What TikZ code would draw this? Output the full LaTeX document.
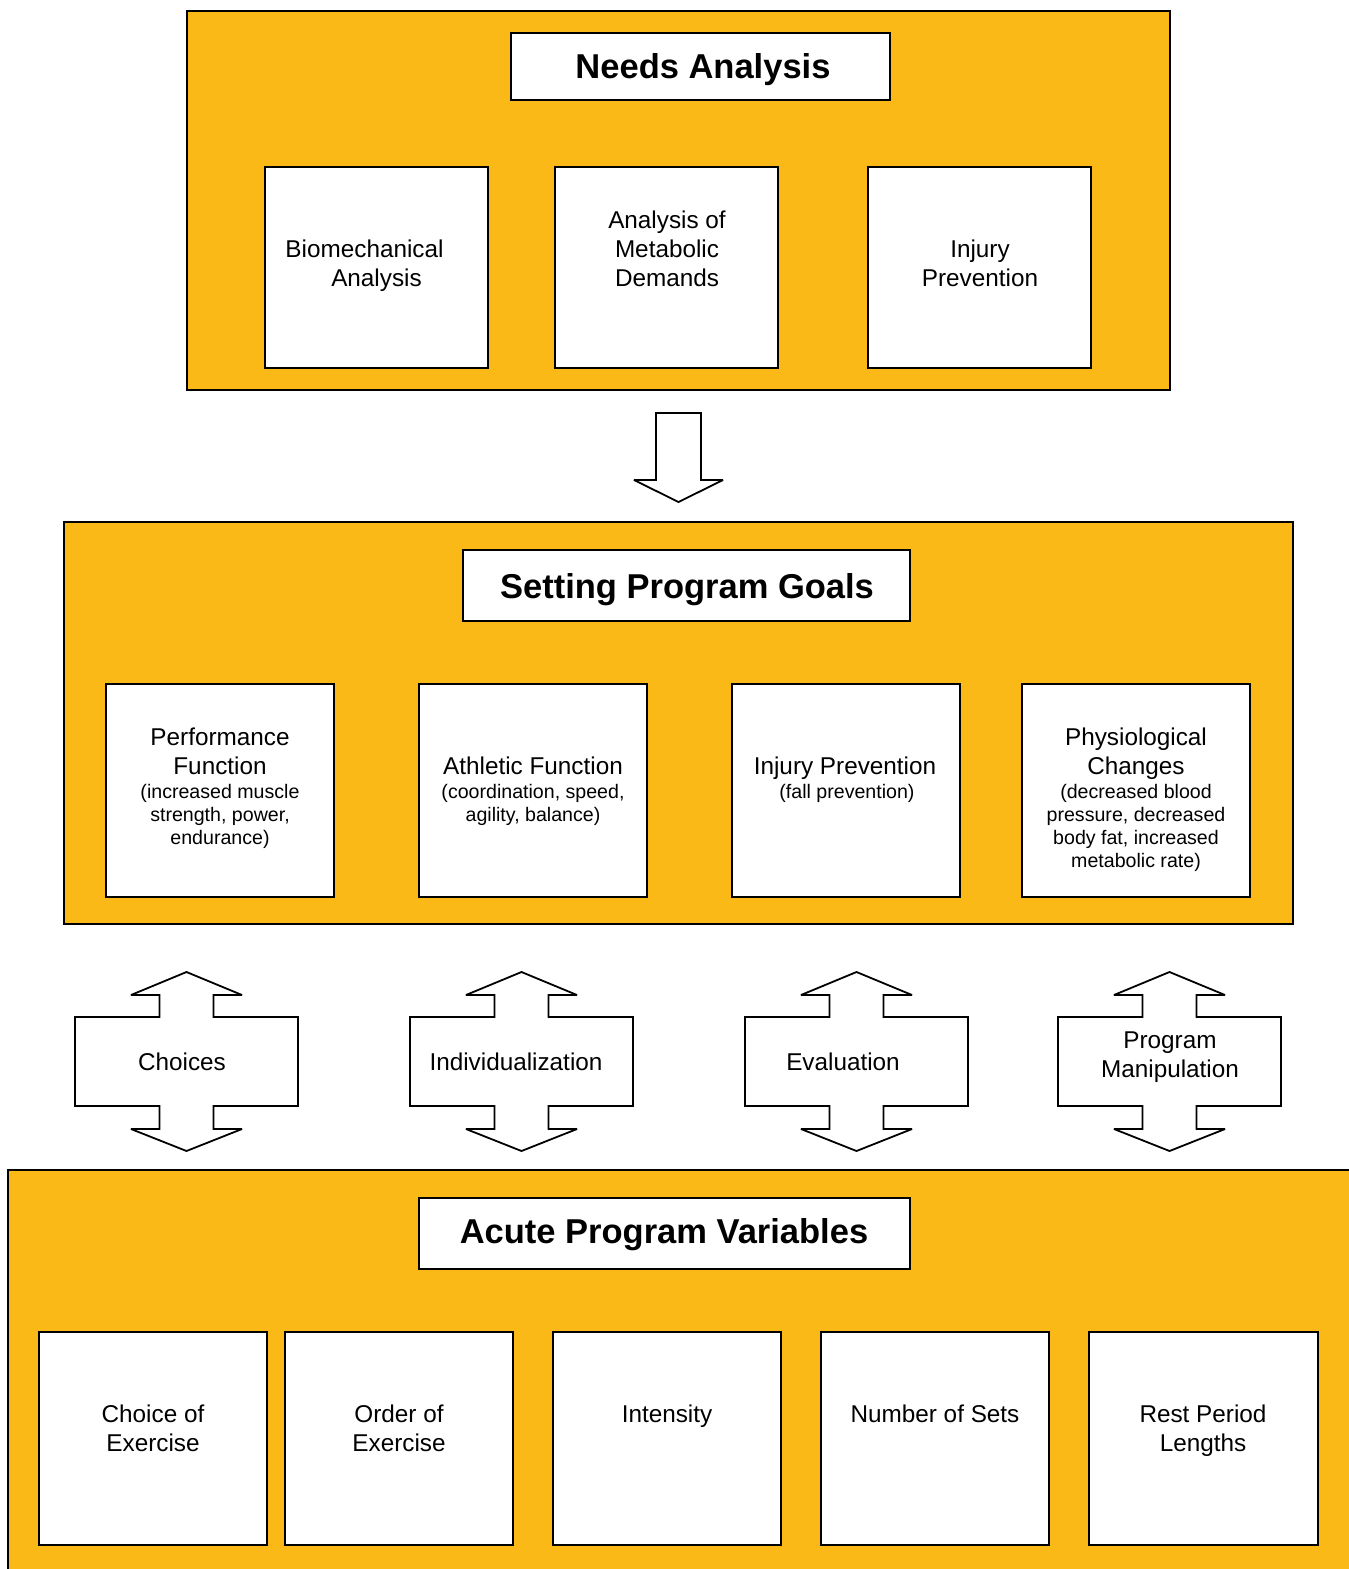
\documentclass[tikz,border=0pt]{standalone}
\usepackage{fontspec}
\setmainfont{Liberation Sans}
\definecolor{panelorange}{RGB}{251,185,24}
\tikzset{
  panel/.style={draw=black, fill=panelorange, line width=1.8pt, inner sep=0pt},
  wbox/.style={draw=black, fill=white, line width=1.8pt, inner sep=0pt},
  titletxt/.style={anchor=base, inner sep=0pt, font=\fontsize{34.5}{40}\selectfont\bfseries},
  maintxt/.style={anchor=base, inner sep=0pt, font=\fontsize{24.3}{29}\selectfont},
  smalltxt/.style={anchor=base, inner sep=0pt, font=\fontsize{19.6}{23}\selectfont},
  arrowshape/.style={draw=black, fill=white, line width=1.8pt, line join=miter, miter limit=2},
  pics/dblarr/.style={code={
    \draw[arrowshape] (0,972) -- (55.5,995) -- (27,995) -- (27,1017) -- (111.5,1017)
      -- (111.5,1106) -- (27,1106) -- (27,1129) -- (55.5,1129) -- (0,1151)
      -- (-55.5,1129) -- (-27,1129) -- (-27,1106) -- (-111.5,1106) -- (-111.5,1017)
      -- (-27,1017) -- (-27,995) -- (-55.5,995) -- cycle;
  }}
}
\begin{document}
\begin{tikzpicture}[x=1pt,y=-1pt]
\clip (0,0) rectangle (1349,1569);
\fill[white] (0,0) rectangle (1349,1569);

% ---------- Panel 1 ----------
\node[panel, minimum width=983pt, minimum height=379pt] (p1) at (678.5,200.5) {};
\node[wbox, minimum width=379pt, minimum height=67pt] (t1) at (700.5,66.5) {};
\node[titletxt] (t1a) at (703,78) {Needs Analysis};
\node[wbox, minimum width=223pt, minimum height=201pt] (b11) at (376.5,267.5) {};
\node[wbox, minimum width=223pt, minimum height=201pt] (b12) at (666.5,267.5) {};
\node[wbox, minimum width=223pt, minimum height=201pt] (b13) at (979.5,267.5) {};
\node[maintxt] (b11a) at (364.5,257.5) {Biomechanical};
\node[maintxt] (b11b) at (376.5,286.5) {Analysis};
\node[maintxt] (b12a) at (667,228.5) {Analysis of};
\node[maintxt] (b12b) at (667,257.5) {Metabolic};
\node[maintxt] (b12c) at (667,286.5) {Demands};
\node[maintxt] (b13a) at (980,257.5) {Injury};
\node[maintxt] (b13b) at (980,286.5) {Prevention};

% ---------- down arrow ----------
\draw[arrowshape] (656,413) -- (701,413) -- (701,480) -- (723,480) -- (678.5,502)
  -- (634,480) -- (656,480) -- cycle;

% ---------- Panel 2 ----------
\node[panel, minimum width=1229pt, minimum height=402pt] (p2) at (678.5,723) {};
\node[wbox, minimum width=447pt, minimum height=71pt] (t2) at (686.5,585.5) {};
\node[titletxt] (t2a) at (687,598) {Setting Program Goals};
\node[wbox, minimum width=228pt, minimum height=213pt] (b21) at (220,790.5) {};
\node[wbox, minimum width=228pt, minimum height=213pt] (b22) at (533,790.5) {};
\node[wbox, minimum width=228pt, minimum height=213pt] (b23) at (846,790.5) {};
\node[wbox, minimum width=228pt, minimum height=213pt] (b24) at (1136,790.5) {};
\node[maintxt] (b21a) at (220,745.5) {Performance};
\node[maintxt] (b21b) at (220,774.5) {Function};
\node[smalltxt] (b21c) at (220,798.5) {(increased muscle};
\node[smalltxt] (b21d) at (220,821.5) {strength, power,};
\node[smalltxt] (b21e) at (220,844.5) {endurance)};
\node[maintxt] (b22a) at (533,774.5) {Athletic Function};
\node[smalltxt] (b22b) at (533,798.5) {(coordination, speed,};
\node[smalltxt] (b22c) at (533,821.5) {agility, balance)};
\node[maintxt] (b23a) at (845,774.5) {Injury Prevention};
\node[smalltxt] (b23b) at (847,798.5) {(fall prevention)};
\node[maintxt] (b24a) at (1136,745.5) {Physiological};
\node[maintxt] (b24b) at (1136,774.5) {Changes};
\node[smalltxt] (b24c) at (1136,798.5) {(decreased blood};
\node[smalltxt] (b24d) at (1136,821.5) {pressure, decreased};
\node[smalltxt] (b24e) at (1136,844.5) {body fat, increased};
\node[smalltxt] (b24f) at (1136,867.5) {metabolic rate)};

% ---------- double arrows ----------
\pic at (186.5,0) {dblarr};
\pic at (521.5,0) {dblarr};
\pic at (856.5,0) {dblarr};
\pic at (1169.5,0) {dblarr};
\node[maintxt] (a1) at (182,1070.5) {Choices};
\node[maintxt] (a2) at (516,1070.5) {Individualization};
\node[maintxt] (a3) at (843,1070.5) {Evaluation};
\node[maintxt] (a4a) at (1170,1048.5) {Program};
\node[maintxt] (a4b) at (1170,1077.5) {Manipulation};

% ---------- Panel 3 ----------
\node[panel, minimum width=1362pt, minimum height=420pt] (p3) at (689,1380) {};
\node[wbox, minimum width=491pt, minimum height=71pt] (t3) at (664.5,1233.5) {};
\node[titletxt] (t3a) at (664,1243.5) {Acute Program Variables};
\node[wbox, minimum width=228pt, minimum height=213pt] (b31) at (153,1438.5) {};
\node[wbox, minimum width=228pt, minimum height=213pt] (b32) at (399,1438.5) {};
\node[wbox, minimum width=228pt, minimum height=213pt] (b33) at (667,1438.5) {};
\node[wbox, minimum width=228pt, minimum height=213pt] (b34) at (935,1438.5) {};
\node[wbox, minimum width=229pt, minimum height=213pt] (b35) at (1203.5,1438.5) {};
\node[maintxt] (b31a) at (153,1422.5) {Choice of};
\node[maintxt] (b31b) at (153,1451.5) {Exercise};
\node[maintxt] (b32a) at (399,1422.5) {Order of};
\node[maintxt] (b32b) at (399,1451.5) {Exercise};
\node[maintxt] (b33a) at (667,1422.5) {Intensity};
\node[maintxt] (b34a) at (935,1422.5) {Number of Sets};
\node[maintxt] (b35a) at (1203,1422.5) {Rest Period};
\node[maintxt] (b35b) at (1203,1451.5) {Lengths};
\end{tikzpicture}
\end{document}
